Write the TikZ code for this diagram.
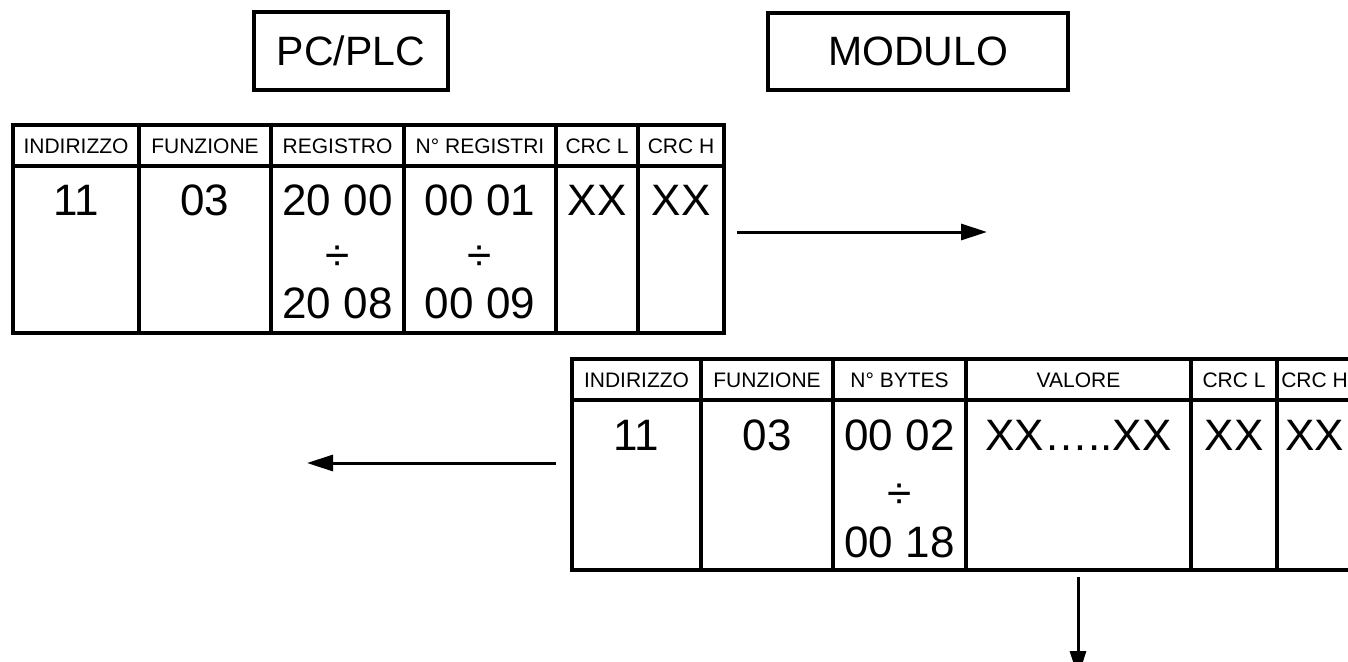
\documentclass[tikz,border=0pt]{standalone}
\usepackage{fontspec}
\setmainfont{Liberation Sans}
\usetikzlibrary{arrows.meta}
\begin{document}
\begin{tikzpicture}[x=1pt,y=-1pt,
  frame/.style={draw,line width=3.3pt,inner sep=0pt},
  rule/.style={line width=4pt},
  grid/.style={draw,line width=4pt,inner sep=0pt},
  hdr/.style={font=\fontsize{21}{21}\selectfont,inner sep=0pt,anchor=base},
  val/.style={font=\fontsize{44}{44}\selectfont,inner sep=0pt,anchor=base},
  lbl/.style={font=\fontsize{41}{41}\selectfont},
  flow/.style={line width=3pt,-{Triangle[length=26pt,width=16pt]}}]
\useasboundingbox (0,0) rectangle (1348,661);

% the two stations
\node[frame,lbl,minimum width=194pt,minimum height=78pt] (pc) at (351,51) {PC/PLC};
\node[frame,lbl,minimum width=300pt,minimum height=77pt] (mod) at (918,51.5) {MODULO};

% request frame (PC/PLC -> MODULO)
\node[grid,minimum width=711pt,minimum height=208pt] (req) at (368.5,229) {};
\draw[rule] (13,166) -- (724,166);
\foreach \x in {139,271,404,556,638} \draw[rule] (\x,125) -- (\x,333);

\node[hdr] (rqh1) at (76,153)    {INDIRIZZO};
\node[hdr] (rqh2) at (205,153)   {FUNZIONE};
\node[hdr] (rqh3) at (337.5,153) {REGISTRO};
\node[hdr] (rqh4) at (480,153)   {N° REGISTRI};
\node[hdr] (rqh5) at (597,153)   {CRC L};
\node[hdr] (rqh6) at (681,153)   {CRC H};

\node[val] (rqv1)  at (76,215)    {11};
\node[val] (rqv2)  at (205,215)   {03};
\node[val] (rqv3)  at (337.5,215) {20 00};
\node[val] (rqv3d) at (337.5,270) {÷};
\node[val] (rqv3b) at (337.5,318) {20 08};
\node[val] (rqv4)  at (480,215)   {00 01};
\node[val] (rqv4d) at (480,270)   {÷};
\node[val] (rqv4b) at (480,318)   {00 09};
\node[val] (rqv5)  at (597,215)   {XX};
\node[val] (rqv6)  at (681,215)   {XX};

% response frame (MODULO -> PC/PLC)
\node[grid,minimum width=780pt,minimum height=211pt] (rsp) at (962,464.5) {};
\draw[rule] (572,400) -- (1352,400);
\foreach \x in {701,833,966,1191,1277} \draw[rule] (\x,359) -- (\x,570);

\node[hdr] (rsh1) at (636.5,387)  {INDIRIZZO};
\node[hdr] (rsh2) at (767,387)    {FUNZIONE};
\node[hdr] (rsh3) at (899.5,387)  {N° BYTES};
\node[hdr] (rsh4) at (1078.5,387) {VALORE};
\node[hdr] (rsh5) at (1234,387)   {CRC L};
\node[hdr] (rsh6) at (1314.5,387) {CRC H};

\node[val] (rsv1)  at (636.5,450)  {11};
\node[val] (rsv2)  at (767,450)    {03};
\node[val] (rsv3)  at (899.5,450)  {00 02};
\node[val] (rsv3d) at (899.5,508)  {÷};
\node[val] (rsv3b) at (899.5,557)  {00 18};
\node[val] (rsv4)  at (1078.5,450) {XX…..XX};
\node[val] (rsv5)  at (1234,450)   {XX};
\node[val] (rsv6)  at (1314.5,450) {XX};

% direction of the transfers
\coordinate (reqFrom) at (737,232);
\coordinate (reqTo)   at (987,232);
\coordinate (rspFrom) at (556,463);
\coordinate (rspTo)   at (307,463);
\coordinate (valFrom) at (1078,577);
\coordinate (valTo)   at (1078,677);
\draw[flow] (reqFrom) -- (reqTo);
\draw[flow] (rspFrom) -- (rspTo);
\draw[flow] (valFrom) -- (valTo);
\end{tikzpicture}
\end{document}
